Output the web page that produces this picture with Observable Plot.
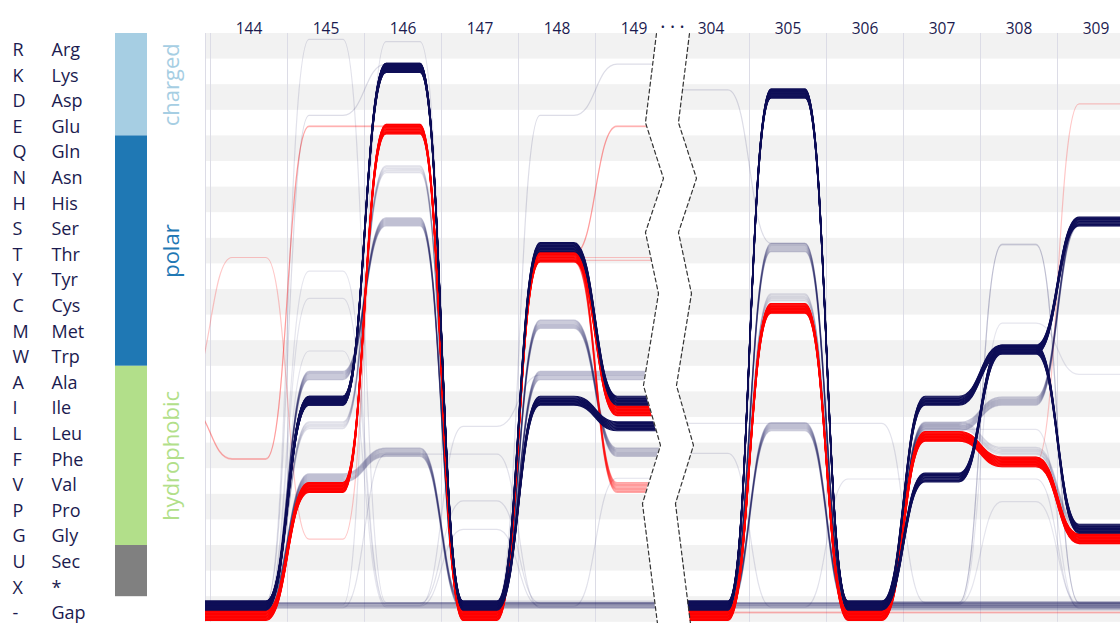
<!DOCTYPE html>
<html><head><meta charset="utf-8">
<script src="https://cdn.jsdelivr.net/npm/d3@7"></script>
<script src="https://cdn.jsdelivr.net/npm/@observablehq/plot@0.6"></script>
<style>
html,body{margin:0;padding:0;background:#fff;}
#wrap{display:flex;width:1120px;height:623px;overflow:hidden;}
svg{overflow:hidden;}
</style></head><body><div id="wrap"></div>
<script>
// ---------- data ----------
const residues = ["R","K","D","E","Q","N","H","S","T","Y","C","M","W","A","I","L","F","V","P","G","U","X","-"];
const residueNames = ["Arg","Lys","Asp","Glu","Gln","Asn","His","Ser","Thr","Tyr","Cys","Met","Trp","Ala","Ile","Leu","Phe","Val","Pro","Gly","Sec","*","Gap"];
const positions = ["144","145","146","147","148","149","304","305","306","307","308","309"];
const groupLabels = ["charged","polar","hydrophobic",""];
const groupSizes = [4,9,7,2];
const groupColors = ["#a6cee3","#1f78b4","#b2df8a","#808080"];

// residue paths of the sequence bundles across the 12 positions
const navyMain1 = ["-","I","K","-","T","I","-","D","-","I","W","S"];
const navyMain2 = ["-","I","K","-","I","L","-","D","-","V","W","G"];
const redMain   = ["-","V","E","-","T","I","-","C","-","L","F","G"];
const redLight  = ["-","V","E","-","T","V","-","C","-","L","F","G"];
const lavA = ["-","A","S","-","M","F","-","T","-","L","I","S"];
const lavB = ["-","V","F","-","A","A","-","L","-","-","-","-"];
const lavC = ["-","L","N","-","-","-","-","C","-","L","F","G"];
const gapAll = ["-","-","-","-","-","-","-","-","-","-","-","-"];
const faintR1 = ["-","R","-","-","-","-","-","-","-","-","-","-"];
const faintR2 = ["-","-","R","-","-","-","-","-","-","-","-","-"];
const faintE  = ["-","E","K","-","E","K","D","T","-","-","-","-"];
const faintY  = ["-","Y","-","-","-","-","-","-","-","-","-","-"];
const faintC  = ["-","C","-","-","-","-","-","-","-","-","-","-"];
const faintW  = ["-","W","-","-","-","-","-","-","-","-","-","-"];
const faintL  = ["-","-","-","L","A","A","-","-","-","-","-","-"];
const faintF  = ["-","-","F","F","-","-","-","-","-","-","-","-"];
const faintP  = ["-","-","-","P","-","-","-","-","-","-","-","-"];
const faintG  = ["-","-","-","G","-","V","-","-","-","-","-","-"];
const faintL2 = ["-","-","-","-","-","-","L","L","L","-","-","-"];
const faintV  = ["-","-","-","-","-","-","F","-","V","V","V","-"];
const faintT  = ["-","-","-","-","-","-","-","-","-","-","T","-"];
const faintM  = ["-","-","-","-","-","-","-","-","-","-","M","A"];
const faintL3 = ["-","-","-","-","-","-","-","-","-","L","L","-"];
const faintP2 = ["-","-","-","-","-","-","-","-","-","-","P","-"];
const pink1 = ["F","E","E","-","T","E","-","-","-","-","-","-"];
const pink2 = ["T","G","E","-","T","T","-","C","-","L","F","D"];
const pink3 = ["-","V","E","-","T","T","-","C","-","L","F","G"];

// zig-zag break between 149 and 304 (row, shift from the break centre in column units)
const breakRows  = [0, 3.48, 5.66, 7.77, 10.16, 13.75, 16.09, 18.36, 23.05];
const breakShift = [-0.208,-0.351,-0.117,-0.351,-0.182,-0.377,-0.156,-0.390,-0.195];

const NAVY = "#0e0e57", RED = "#ff0000", INK = "#1b1b4f";
// bundle table: path, entering residue, sequence-index range, count, colour, opacity (draw order)
const bundles = [
  {seq: faintR1, prev:"-", first:2, last:2, n:1, c:NAVY, a:0.12},
  {seq: faintR2, prev:"-", first:5, last:5, n:1, c:NAVY, a:0.12},
  {seq: faintE,  prev:"-", first:1, last:1, n:1, c:NAVY, a:0.14},
  {seq: faintY,  prev:"-", first:4, last:4, n:1, c:NAVY, a:0.10},
  {seq: faintC,  prev:"-", first:6, last:6, n:1, c:NAVY, a:0.10},
  {seq: faintW,  prev:"-", first:8, last:8, n:1, c:NAVY, a:0.10},
  {seq: faintL,  prev:"-", first:6, last:6, n:1, c:NAVY, a:0.12},
  {seq: faintF,  prev:"-", first:9, last:9, n:1, c:NAVY, a:0.12},
  {seq: faintP,  prev:"-", first:3, last:3, n:1, c:NAVY, a:0.12},
  {seq: faintG,  prev:"-", first:7, last:7, n:1, c:NAVY, a:0.12},
  {seq: faintL2, prev:"-", first:2, last:2, n:1, c:NAVY, a:0.12},
  {seq: faintV,  prev:"-", first:8, last:8, n:1, c:NAVY, a:0.12},
  {seq: faintT,  prev:"-", first:2, last:3, n:2, c:NAVY, a:0.14},
  {seq: faintM,  prev:"-", first:5, last:5, n:1, c:NAVY, a:0.10},
  {seq: faintL3, prev:"-", first:10, last:10, n:1, c:NAVY, a:0.10},
  {seq: faintP2, prev:"-", first:4, last:4, n:1, c:NAVY, a:0.10},
  {seq: gapAll,  prev:"-", first:3, last:9, n:5, c:NAVY, a:0.2},
  {seq: pink1,   prev:"I", first:15, last:16, n:2, c:RED, a:0.22},
  {seq: pink2,   prev:"A", first:20, last:20, n:1, c:RED, a:0.22},
  {seq: pink3,   prev:"-", first:24, last:24, n:1, c:RED, a:0.22},
  {seq: lavA,    prev:"-", first:1, last:12, n:9, c:NAVY, a:0.22},
  {seq: lavB,    prev:"-", first:1, last:12, n:9, c:NAVY, a:0.22},
  {seq: lavC,    prev:"-", first:0, last:9, n:6, c:NAVY, a:0.13},
  {seq: redLight,prev:"-", first:13, last:26, n:10, c:RED, a:0.35},
  {seq: redMain, prev:"-", first:13, last:26, n:14, c:RED, a:1},
  {seq: navyMain1,prev:"-", first:0, last:12, n:13, c:NAVY, a:1},
  {seq: navyMain2,prev:"-", first:0, last:12, n:13, c:NAVY, a:1}
];

// ---------- derived tables ----------
const rowOf = Object.fromEntries(residues.map((r, i) => [r, i]));
const flat = 0.22;
const slotFrac = s => 0.17 + s * 0.029;
function strands(b) {
  const out = [];
  for (let k = 0; k < b.n; k++) {
    const slot = b.n === 1 ? b.first : b.first + (b.last - b.first) * k / (b.n - 1);
    const f = slotFrac(slot);
    const L = [[-1.22, b.prev], [-0.78, b.prev]];
    for (let p = 0; p < 6; p++) L.push([p - flat, b.seq[p]], [p + flat, b.seq[p]]);
    L.push([5.46, b.seq[5]]);
    const R = [[5.46, b.seq[6]]];
    for (let p = 6; p < 12; p++) R.push([p - flat, b.seq[p]], [p + flat, b.seq[p]]);
    R.push([11.9, b.seq[11]]);
    L.forEach(([x, r]) => out.push({id: k + "L", x, y: rowOf[r] + f}));
    R.forEach(([x, r]) => out.push({id: k + "R", x, y: rowOf[r] + f}));
  }
  return out;
}
const stripeRows = residues.map((r, i) => i).filter(i => i % 2 === 0);
const boundaries = positions.slice(0, -1).map((p, i) => i + 0.5).concat([-0.5]);
const groups = [];
{ let s = 0; groupSizes.forEach((n, i) => { groups.push({label: groupLabels[i], color: groupColors[i], y1: s, y2: s + n}); s += n; }); }
const zig = breakRows.map((r, i) => ({row: r, x1: 5.5 + breakShift[i], x2: 5.5 + breakShift[i] + 0.4286}));

// ---------- legend ----------
const legend = Plot.plot({
  width: 205, height: 623, margin: 0,
  y: {domain: [0, 23], range: [33, 621.8], axis: null},
  style: {fontFamily: "'Open Sans', sans-serif", background: "white", overflow: "hidden"},
  marks: [
    Plot.text(residues, {y: (d, i) => i + 0.5, text: d => d, frameAnchor: "left", dx: 12, dy: 4, textAnchor: "start", fontSize: 18, fill: INK}),
    Plot.text(residueNames, {y: (d, i) => i + 0.5, text: d => d, frameAnchor: "left", dx: 51, dy: 4, textAnchor: "start", fontSize: 18, fill: INK}),
    Plot.rect(groups, {y1: "y1", y2: "y2", fill: "color", insetLeft: 115, insetRight: 58}),
    Plot.text(groups.filter(g => g.label), {y: d => (d.y1 + d.y2) / 2, text: "label", fill: "color", frameAnchor: "left", dx: 171, textAnchor: "middle", rotate: -90, fontSize: 22})
  ]
});

// ---------- main flow chart ----------
const lineMarks = bundles.map(b => Plot.line(strands(b), {x: "x", y: "y", z: "id", stroke: b.c, strokeOpacity: b.a, strokeWidth: 1.2, curve: "bump-x"}));
const chart = Plot.plot({
  width: 915, height: 623, margin: 0,
  x: {domain: [-0.5, 11.5], range: [5, 929], axis: null},
  y: {domain: [0, 23], range: [33, 621.8], axis: null},
  style: {fontFamily: "'Open Sans', sans-serif", background: "white", overflow: "hidden"},
  marks: [
    Plot.rect(stripeRows, {y1: d => d, y2: d => d + 1, fill: "#f2f2f2"}),
    Plot.rect([0], {y1: 0, y2: 23, fill: "#dcdce6", insetRight: 914}),
    Plot.ruleX(boundaries, {x: d => d, y1: 0, y2: 23, stroke: "#dcdce6", strokeWidth: 1}),
    ...lineMarks,
    Plot.areaX(zig, {y: "row", x1: "x1", x2: "x2", fill: "white", curve: "linear"}),
    Plot.line(zig, {x: "x1", y: "row", stroke: "#333", strokeWidth: 1.2, strokeDasharray: "4,3"}),
    Plot.line(zig, {x: "x2", y: "row", stroke: "#333", strokeWidth: 1.2, strokeDasharray: "4,3"}),
    Plot.text(positions, {x: (d, i) => i, text: d => d, frameAnchor: "top", dy: 22, fontSize: 15.5, fill: INK}),
    Plot.text(["\u2022\u2002\u2022\u2002\u2022"], {x: () => 5.5, text: d => d, frameAnchor: "top", dy: 23, fontSize: 11, fill: INK})
  ]
});
const wrap = document.getElementById("wrap");
wrap.appendChild(legend);
wrap.appendChild(chart);
</script></body></html>
